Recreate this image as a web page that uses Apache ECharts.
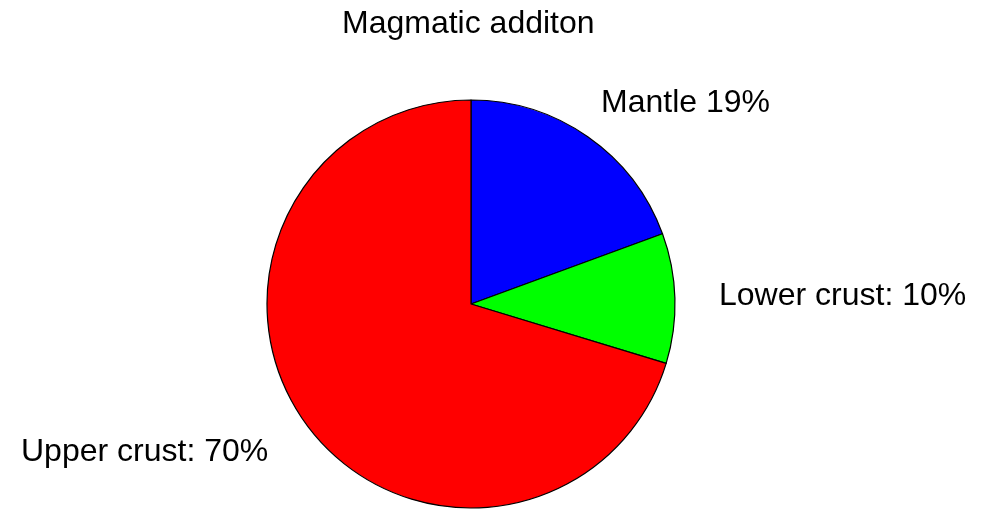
<!DOCTYPE html>
<html>
<head>
<meta charset="utf-8">
<script src="https://cdn.jsdelivr.net/npm/echarts@6/dist/echarts.min.js"></script>
<style>
    html, body {margin: 0; padding: 0; background: #fff;}
    #chart {width: 996px; height: 510px;}
</style>
</head>
<body>
<div id="chart"></div>
<script>
const titleText = 'Magmatic additon';
const names = ['Mantle', 'Lower crust', 'Upper crust'];
// slice sizes as measured from the wedge angles in the picture
const values = [19.4, 10.3, 70.3];
const labelTexts = ['Mantle 19%', 'Lower crust: 10%', 'Upper crust: 70%'];
const colors = ['#0000ff', '#00ff00', '#ff0000'];

// where each label sits (text anchor)
const labelSpots = [
    {x: 601, y: 103, align: 'left'},
    {x: 719, y: 296, align: 'left'},
    {x: 21, y: 452, align: 'left'}
];

const font = 'Arial, "Liberation Sans", sans-serif';

const chart = echarts.init(document.getElementById('chart'));

const data = names.map((name, i) => ({
    name: name,
    value: values[i],
    itemStyle: {color: colors[i]},
    label: {formatter: labelTexts[i]}
}));

chart.setOption({
    animation: false,
    backgroundColor: '#fff',
    title: {
        text: titleText,
        left: 342,
        top: 8,
        padding: 0,
        textStyle: {
            fontFamily: font,
            fontSize: 32,
            fontWeight: 'normal',
            color: '#000'
        }
    },
    series: [{
        type: 'pie',
        center: [471, 304],
        radius: 204,
        startAngle: 90,
        clockwise: true,
        avoidLabelOverlap: false,
        silent: true,
        itemStyle: {
            borderColor: '#000',
            borderWidth: 1.2
        },
        label: {
            show: true,
            position: 'outside',
            fontFamily: font,
            fontSize: 32,
            color: '#000'
        },
        labelLine: {show: false},
        labelLayout: params => {
            const spot = labelSpots[params.dataIndex];
            return {
                x: spot.x,
                y: spot.y,
                align: spot.align,
                verticalAlign: 'middle'
            };
        },
        data: data
    }]
});
</script>
</body>
</html>
